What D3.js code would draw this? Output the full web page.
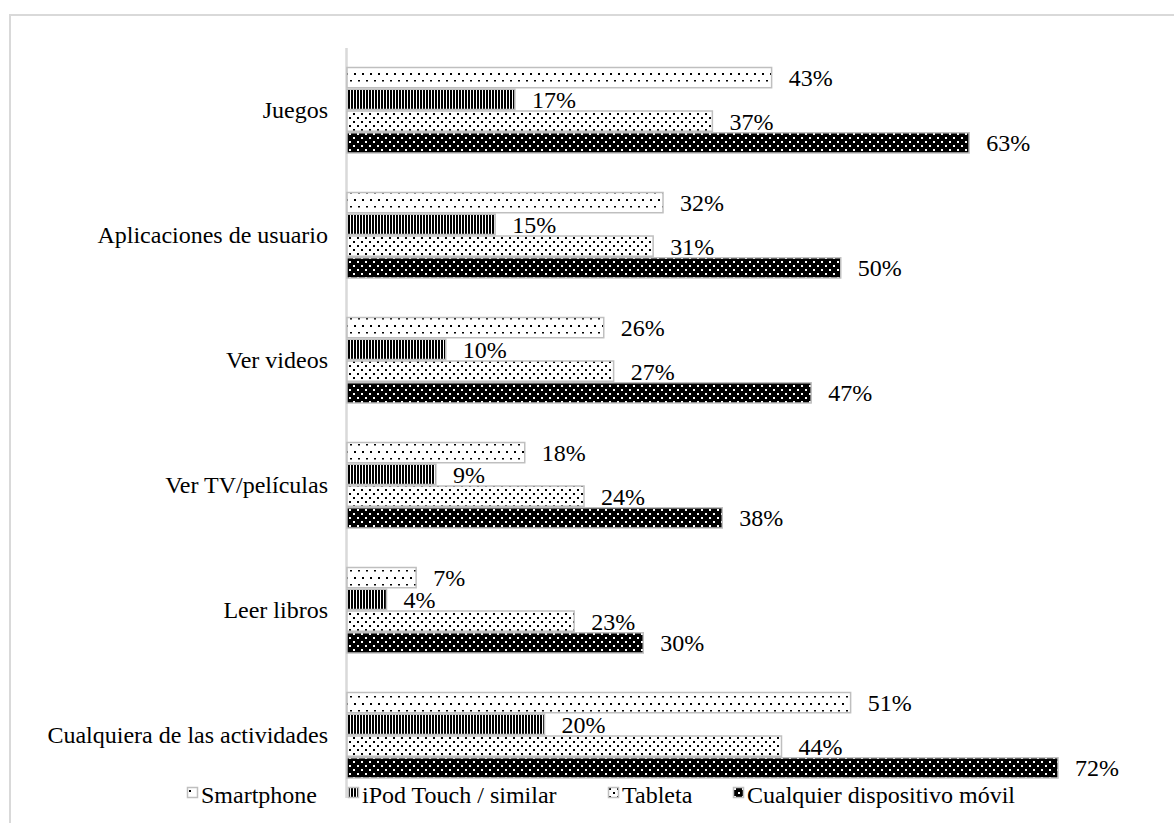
<!DOCTYPE html>
<html>
<head>
<meta charset="utf-8">
<script src="https://cdn.jsdelivr.net/npm/d3@7"></script>
<style>
  html, body { margin: 0; padding: 0; background: #fff; }
  svg { display: block; }
  text { font-family: "Liberation Serif", "Times New Roman", serif; fill: #000; }
</style>
</head>
<body>
<svg id="chart" width="1174" height="823"></svg>
<script>
// Activities done on mobile devices (% of users)
const categories = [
  "Juegos",
  "Aplicaciones de usuario",
  "Ver videos",
  "Ver TV/películas",
  "Leer libros",
  "Cualquiera de las actividades"
];
const seriesNames = ["Smartphone", "iPod Touch / similar", "Tableta", "Cualquier dispositivo móvil"];
const smartphone = [43, 32, 26, 18, 7, 51];
const ipod       = [17, 15, 10, 9, 4, 20];
const tableta    = [37, 31, 27, 24, 23, 44];
const cualquier  = [63, 50, 47, 38, 30, 72];

const seriesValues = [smartphone, ipod, tableta, cualquier];
const patternIds = ["pSmart", "pIpod", "pTab", "pAny"];

const svg = d3.select("#chart");
const W = 1174, H = 823;

// ---- fill patterns ----
const defs = svg.append("defs");

// sparse dotted grid
const p0 = defs.append("pattern").attr("id", "pSmart")
  .attr("patternUnits", "userSpaceOnUse").attr("width", 8).attr("height", 14);
p0.append("rect").attr("width", 8).attr("height", 14).attr("fill", "#fff");
p0.append("rect").attr("x", 2).attr("y", 3).attr("width", 2).attr("height", 2).attr("fill", "#000");
p0.append("rect").attr("x", 6).attr("y", 10).attr("width", 2).attr("height", 1.5).attr("fill", "#000");

// narrow vertical stripes
const p1 = defs.append("pattern").attr("id", "pIpod")
  .attr("patternUnits", "userSpaceOnUse").attr("width", 3).attr("height", 4);
p1.append("rect").attr("width", 3).attr("height", 4).attr("fill", "#fff");
p1.append("rect").attr("x", 0).attr("width", 2).attr("height", 4).attr("fill", "#000");

// denser dots
const p2 = defs.append("pattern").attr("id", "pTab")
  .attr("patternUnits", "userSpaceOnUse").attr("width", 8).attr("height", 8);
p2.append("rect").attr("width", 8).attr("height", 8).attr("fill", "#fff");
p2.append("rect").attr("x", 1).attr("y", 1).attr("width", 2).attr("height", 2).attr("fill", "#000");
p2.append("rect").attr("x", 5).attr("y", 5).attr("width", 2).attr("height", 2).attr("fill", "#000");

// dark with light dots
const p3 = defs.append("pattern").attr("id", "pAny")
  .attr("patternUnits", "userSpaceOnUse").attr("width", 8).attr("height", 8);
p3.append("rect").attr("width", 8).attr("height", 8).attr("fill", "#000");
p3.append("rect").attr("x", 1).attr("y", 1).attr("width", 2).attr("height", 2).attr("fill", "#fff");
p3.append("rect").attr("x", 5).attr("y", 5).attr("width", 2).attr("height", 2).attr("fill", "#fff");

// ---- outer frame ----
svg.append("rect")
  .attr("x", 10).attr("y", 15)
  .attr("width", W + 20).attr("height", H + 20)
  .attr("fill", "none").attr("stroke", "#d9d9d9").attr("stroke-width", 2);

// ---- scales ----
const x = d3.scaleLinear().domain([0, 80]).range([347, 347 + 80 * 9.875]);
const y0 = d3.scaleBand().domain(categories).range([47, 797]).padding(0);
const y1 = d3.scaleBand().domain(seriesNames).range([20.5, 106]).paddingInner(0.07);

// ---- axis line ----
svg.append("line")
  .attr("x1", 346.5).attr("x2", 346.5)
  .attr("y1", 48).attr("y2", 798)
  .attr("stroke", "#d9d9d9").attr("stroke-width", 2.5);

// ---- category labels ----
svg.append("g").selectAll("text")
  .data(categories)
  .join("text")
  .attr("x", 328)
  .attr("y", d => y0(d) + y0.bandwidth() / 2 + 8)
  .attr("text-anchor", "end")
  .attr("font-size", 24)
  .text(d => d);

// ---- bars ----
const rows = [];
categories.forEach((c, i) => {
  seriesNames.forEach((s, j) => {
    rows.push({ cat: c, series: s, idx: j, value: seriesValues[j][i] });
  });
});

const groups = svg.append("g");
groups.selectAll("rect.bar")
  .data(rows)
  .join("rect")
  .attr("class", "bar")
  .attr("x", x(0))
  .attr("y", d => y0(d.cat) + y1(d.series))
  .attr("width", d => x(d.value) - x(0))
  .attr("height", y1.bandwidth())
  .attr("fill", d => `url(#${patternIds[d.idx]})`)
  .attr("stroke", "#bfbfbf")
  .attr("stroke-width", 1.5);

// ---- value labels ----
groups.selectAll("text.val")
  .data(rows)
  .join("text")
  .attr("class", "val")
  .attr("x", d => x(d.value) + 17)
  .attr("y", d => y0(d.cat) + y1(d.series) + y1.bandwidth() / 2 + 8.5)
  .attr("font-size", 24)
  .text(d => d.value + "%");

// ---- legend ----
const legendX = [187, 348, 608, 733];
const legend = svg.append("g");
seriesNames.forEach((s, j) => {
  const g = legend.append("g").attr("transform", `translate(${legendX[j]},787)`);
  g.append("rect")
    .attr("x", 0.5).attr("y", 0.5)
    .attr("width", 10).attr("height", 10)
    .attr("fill", `url(#${patternIds[j]})`)
    .attr("stroke", "#bfbfbf").attr("stroke-width", 1.5);
  g.append("text")
    .attr("x", 14).attr("y", 16)
    .attr("font-size", 24)
    .text(s);
});
</script>
</body>
</html>
